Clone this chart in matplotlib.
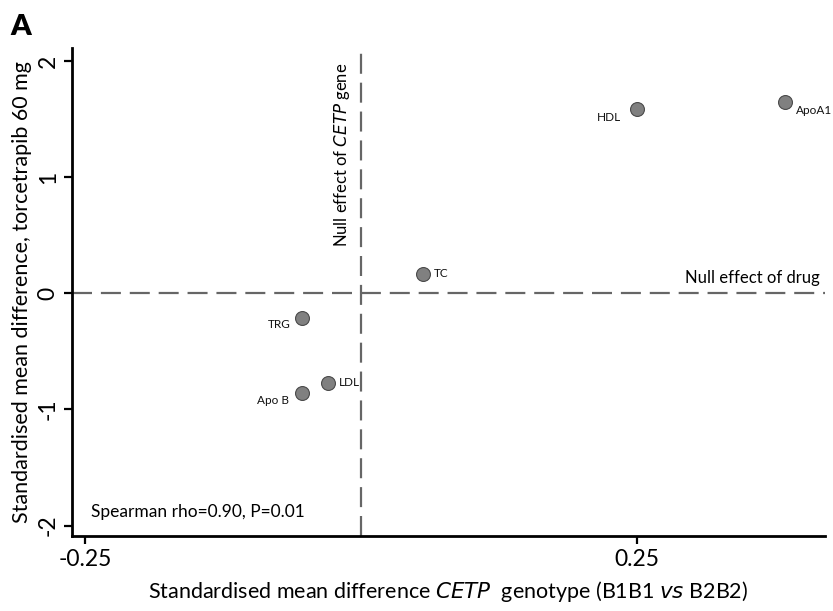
import matplotlib
matplotlib.use("Agg")
import matplotlib.pyplot as plt

plt.rcParams['font.family'] = ['Lato', 'DejaVu Sans']

labels = ["HDL", "ApoA1", "TC", "TRG", "LDL", "Apo B"]
x_gene = [0.250, 0.384, 0.056, -0.054, -0.030, -0.054]
y_drug = [1.59, 1.65, 0.17, -0.21, -0.77, -0.86]
# label offsets in points (dx, dy) and alignment
offsets = {
    "HDL": (-12, -6, "right"),
    "ApoA1": (8, -6, "left"),
    "TC": (8, 0, "left"),
    "TRG": (-8, -5, "right"),
    "LDL": (8, 0, "left"),
    "Apo B": (-9, -5, "right"),
}
xticks = [-0.25, 0.25]
xticklabels = ["-0.25", "0.25"]
yticks = [-2, -1, 0, 1, 2]

fig = plt.figure(figsize=(8.33, 6.11), dpi=100)
ax = fig.add_axes([0.0864, 0.1227, 0.904, 0.798])
ax.set_xlim(-0.262, 0.42)
ax.set_ylim(-2.09, 2.11)

ax.axhline(0, color="#666666", lw=1.6, ls=(0, (9, 4)), zorder=1)
ax.axvline(0, color="#666666", lw=1.6, ls=(0, (9, 4)), zorder=1)

ax.scatter(x_gene, y_drug, s=100, color="#808080", edgecolor="#4a4a4a",
           linewidth=0.8, zorder=3)
for lab, xv, yv in zip(labels, x_gene, y_drug):
    dx, dy, ha = offsets[lab]
    ax.annotate(lab, (xv, yv), xytext=(dx, dy), textcoords="offset points",
                ha=ha, va="center", fontsize=8.5, color="#111111")

for s in ["top", "right"]:
    ax.spines[s].set_visible(False)
for s in ["left", "bottom"]:
    ax.spines[s].set_linewidth(2)

ax.set_xticks(xticks)
ax.set_xticklabels(xticklabels, fontsize=16.5)
ax.set_yticks(yticks)
ax.set_yticklabels([str(v) for v in yticks], fontsize=16.5, rotation=90, va="center")
ax.tick_params(direction="out", length=6, width=1.6)

ax.set_xlabel("Standardised mean difference $\\it{CETP}$  genotype (B1B1 $\\it{vs}$ B2B2)",
              fontsize=15.5, labelpad=6)
ax.set_ylabel("Standardised mean difference, torcetrapib 60 mg", fontsize=15.5, labelpad=4)

ax.text(-0.017, 1.19, "Null effect of $\\it{CETP}$ gene", rotation=90, fontsize=12,
        ha="center", va="center")
ax.text(0.415, 0.13, "Null effect of drug", fontsize=12, ha="right", va="center")
ax.text(-0.245, -1.88, "Spearman rho=0.90, P=0.01", fontsize=12.5, ha="left", va="center")

fig.text(0.012, 0.955, "A", fontsize=21, fontweight="heavy", ha="left", va="center")

fig.savefig("out.png", dpi=100)
